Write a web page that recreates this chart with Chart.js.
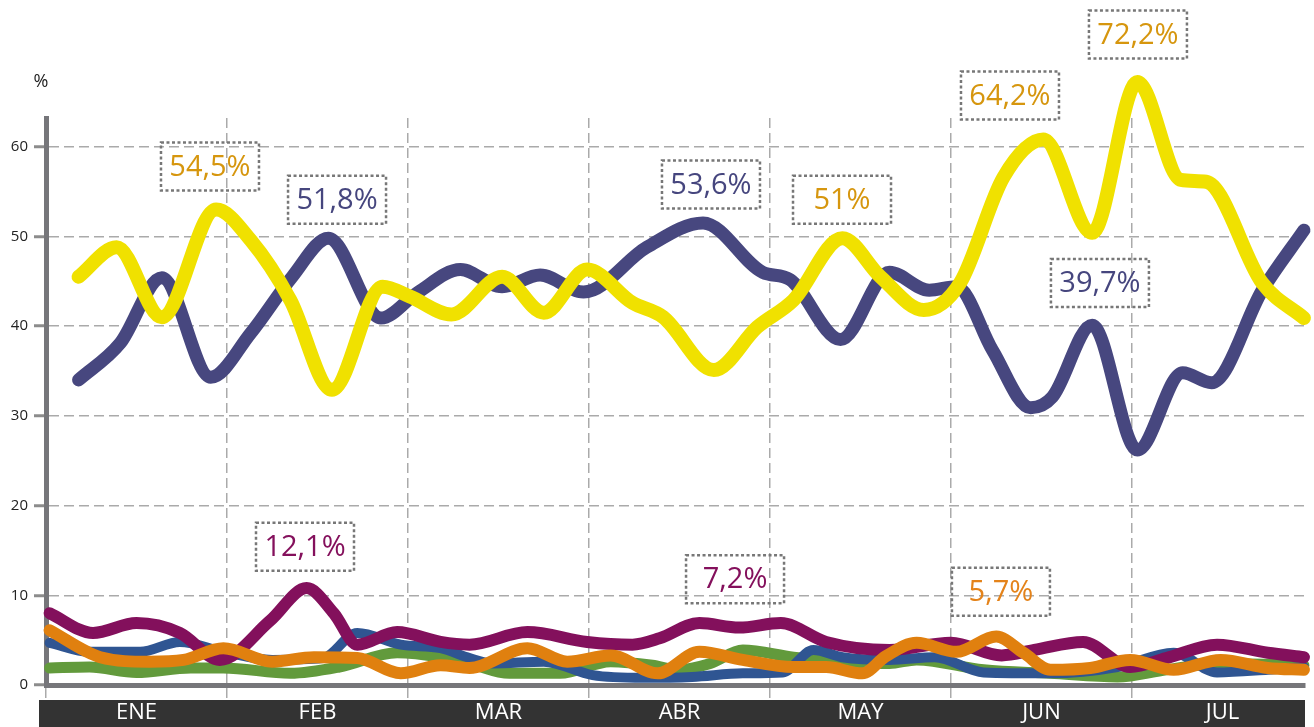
<!DOCTYPE html>
<html>
<head>
<meta charset="utf-8">
<script src="https://cdn.jsdelivr.net/npm/chart.js@4"></script>
<style>
  html, body { margin: 0; padding: 0; background: #fff; }
  #wrap { width: 1314px; height: 727px; position: relative; }
</style>
</head>
<body>
<div id="wrap"><canvas id="chart"></canvas></div>
<script>
// meses (eje x) y escala
const MONTHS = ['ENE', 'FEB', 'MAR', 'ABR', 'MAY', 'JUN', 'JUL'];
const Y_TICKS = [0, 10, 20, 30, 40, 50, 60];

// series: posicion en meses (x) y porcentaje (y)
const yellowX = [0.18, 0.39, 0.64, 0.94, 1.13, 1.35, 1.58, 1.86, 2.01, 2.24, 2.52, 2.75, 2.99, 3.24, 3.41, 3.69, 3.93, 4.13, 4.40, 4.61, 4.85, 5.05, 5.29, 5.51, 5.78, 6.03, 6.27, 6.41, 6.72, 6.95];
const yellowY = [45.5, 48.8, 41.0, 53.0, 49.6, 42.9, 32.9, 44.4, 43.3, 41.3, 45.5, 41.5, 46.3, 42.6, 41.0, 35.1, 39.9, 42.9, 49.8, 45.5, 41.8, 44.8, 56.6, 60.8, 50.4, 67.2, 56.3, 56.1, 44.8, 40.9];

const navyX = [0.18, 0.41, 0.64, 0.91, 1.13, 1.36, 1.56, 1.85, 2.05, 2.29, 2.52, 2.73, 2.97, 3.32, 3.63, 3.96, 4.11, 4.39, 4.66, 4.88, 5.03, 5.23, 5.44, 5.56, 5.78, 6.03, 6.28, 6.44, 6.72, 6.95];
const navyY = [34.0, 38.1, 45.4, 34.3, 39.2, 45.5, 49.8, 40.9, 43.7, 46.3, 44.4, 45.7, 43.8, 48.8, 51.5, 46.0, 45.2, 38.5, 46.0, 44.0, 44.4, 37.3, 30.9, 32.1, 40.1, 26.2, 34.8, 33.7, 44.0, 50.7];

const purpleX = [0.02, 0.26, 0.50, 0.74, 0.96, 1.24, 1.44, 1.59, 1.72, 1.94, 2.18, 2.34, 2.66, 2.99, 3.24, 3.39, 3.61, 3.83, 4.06, 4.31, 4.66, 5.00, 5.28, 5.46, 5.73, 5.99, 6.19, 6.47, 6.75, 6.95];
const purpleY = [8.0, 5.8, 6.9, 5.8, 2.8, 7.2, 10.8, 8.0, 4.5, 5.9, 4.8, 4.5, 5.9, 4.8, 4.5, 5.2, 6.9, 6.4, 6.9, 4.8, 3.9, 4.7, 3.3, 3.9, 4.8, 2.0, 3.0, 4.5, 3.6, 3.1];

const orangeX = [0.02, 0.30, 0.57, 0.76, 0.98, 1.25, 1.48, 1.72, 1.96, 2.18, 2.34, 2.66, 2.88, 3.12, 3.38, 3.61, 3.85, 4.13, 4.31, 4.51, 4.64, 4.81, 5.03, 5.25, 5.40, 5.55, 5.77, 5.99, 6.23, 6.49, 6.75, 6.95];
const orangeY = [6.1, 3.1, 2.6, 2.8, 4.1, 2.6, 3.1, 3.0, 1.3, 2.2, 1.9, 4.1, 2.6, 3.3, 1.3, 3.7, 2.8, 2.0, 2.0, 1.3, 3.2, 4.7, 3.7, 5.4, 3.6, 1.7, 1.9, 2.8, 1.7, 2.8, 1.9, 1.7];

const greenX = [0.02, 0.24, 0.50, 0.80, 0.98, 1.35, 1.62, 1.94, 2.18, 2.34, 2.56, 2.84, 3.12, 3.35, 3.49, 3.67, 3.85, 4.13, 4.40, 4.66, 4.81, 5.18, 5.55, 5.92, 6.19, 6.47, 6.95];
const greenY = [1.9, 2.0, 1.4, 1.9, 1.9, 1.3, 2.0, 3.6, 3.1, 2.4, 1.3, 1.3, 2.6, 2.2, 1.7, 2.4, 3.9, 3.1, 2.6, 2.4, 2.8, 1.7, 1.3, 0.9, 1.7, 2.4, 2.2];

const blueX = [0.02, 0.24, 0.52, 0.74, 0.98, 1.25, 1.53, 1.72, 1.96, 2.18, 2.34, 2.47, 2.75, 3.02, 3.30, 3.57, 3.85, 4.07, 4.24, 4.40, 4.66, 4.91, 5.18, 5.55, 5.92, 6.23, 6.47, 6.75, 6.95];
const blueY = [4.7, 3.7, 3.7, 4.8, 3.7, 2.8, 3.0, 5.8, 4.5, 4.1, 3.0, 2.4, 2.6, 1.1, 0.8, 0.9, 1.3, 1.4, 3.9, 3.1, 2.8, 3.1, 1.4, 1.3, 2.0, 3.6, 1.4, 1.7, 2.0];

// recuadros con valores destacados
const noteText = ['54,5%', '51,8%', '53,6%', '51%', '64,2%', '72,2%', '39,7%', '12,1%', '7,2%', '5,7%'];
const noteX = [0.906, 1.608, 3.674, 4.398, 5.326, 6.033, 5.823, 1.431, 3.807, 5.276];
const noteY = [57.8, 54.1, 55.8, 54.1, 65.7, 72.5, 44.8, 15.4, 11.8, 10.4];
const noteColor = ['#d6960e', '#46467e', '#46467e', '#d6960e', '#d6960e', '#d6960e', '#46467e', '#84105c', '#84105c', '#e4831a'];

const toPoints = (xs, ys) => xs.map((x, i) => ({ x: x, y: ys[i] }));

function lineSet(xs, ys, color, width) {
    return {
        data: toPoints(xs, ys),
        borderColor: color,
        borderWidth: width,
        pointRadius: 0,
        cubicInterpolationMode: 'monotone',
        borderCapStyle: 'round',
        borderJoinStyle: 'round',
        clip: false,
        fill: false
    };
}

// fondo oscuro de los meses, recuadros y simbolo %
const decorPlugin = {
    id: 'decor',
    beforeDraw(chart) {
        const s = chart.scales.months;
        const ctx = chart.ctx;
        ctx.save();
        ctx.fillStyle = '#333333';
        ctx.fillRect(s.left - 7, s.top, s.right - s.left + 7, s.bottom - s.top);
        ctx.restore();
    },
    afterDatasetsDraw(chart) {
        const { ctx, chartArea } = chart;
        const xs = chart.scales.x, ys = chart.scales.y;
        ctx.save();
        ctx.font = '18px "Open Sans"';
        ctx.fillStyle = '#222';
        ctx.textAlign = 'center';
        ctx.textBaseline = 'middle';
        ctx.fillText('%', chartArea.left - 5, chartArea.top - 36);

        ctx.font = '29px "Open Sans"';
        noteText.forEach((t, i) => {
            const cx = xs.getPixelForValue(noteX[i]);
            const cy = ys.getPixelForValue(noteY[i]);
            ctx.setLineDash([3, 2.5]);
            ctx.lineWidth = 2.5;
            ctx.strokeStyle = '#777';
            ctx.strokeRect(cx - 49, cy - 24, 98, 48);
            ctx.setLineDash([]);
            ctx.fillStyle = noteColor[i];
            ctx.fillText(t, cx, cy + 1);
        });
        ctx.restore();
    }
};

new Chart(document.getElementById('chart'), {
    type: 'line',
    data: {
        datasets: [
            lineSet(yellowX, yellowY, '#f0e100', 14),
            lineSet(navyX, navyY, '#47477f', 13),
            lineSet(orangeX, orangeY, '#e0800f', 12),
            lineSet(purpleX, purpleY, '#83105c', 12),
            lineSet(blueX, blueY, '#2f5592', 10),
            lineSet(greenX, greenY, '#629a3c', 11)
        ]
    },
    options: {
        responsive: true,
        maintainAspectRatio: false,
        animation: false,
        layout: { padding: { top: 118, right: 9, left: 0, bottom: 0 } },
        plugins: { legend: { display: false }, tooltip: { enabled: false } },
        scales: {
            x: {
                type: 'linear',
                min: 0,
                max: 6.956,
                weight: 0,
                afterBuildTicks: (scale) => {
                    scale.ticks = MONTHS.map((m, i) => ({ value: i }));
                },
                ticks: { display: false },
                grid: {
                    color: '#aaaaaa',
                    lineWidth: 1.5,
                    tickLength: 15,
                    tickColor: '#aaaaaa',
                    tickWidth: 1.5,
                    tickBorderDash: [10, 5]
                },
                border: { display: true, color: '#76767a', width: 5, dash: [10, 5] },
                afterFit: (scale) => { scale.height = 15; }
            },
            months: {
                type: 'linear',
                position: 'bottom',
                min: 0,
                max: 6.956,
                weight: 1,
                afterBuildTicks: (scale) => {
                    scale.ticks = MONTHS.map((m, i) => ({ value: i + 0.5 }));
                },
                ticks: {
                    color: '#ffffff',
                    font: { family: 'Open Sans', size: 22 },
                    padding: 0,
                    maxRotation: 0,
                    autoSkip: false,
                    callback: (v, i) => MONTHS[i]
                },
                grid: { display: false, drawTicks: false },
                border: { display: false },
                afterFit: (scale) => { scale.height = 27; }
            },
            y: {
                min: 0,
                max: 63.2,
                afterBuildTicks: (scale) => {
                    scale.ticks = Y_TICKS.map(v => ({ value: v }));
                },
                ticks: {
                    color: '#222',
                    font: { family: 'Open Sans', size: 15 },
                    padding: 6
                },
                grid: {
                    color: '#aaaaaa',
                    lineWidth: 1.5,
                    tickLength: 12,
                    tickColor: '#8c8c8c',
                    tickWidth: 3
                },
                border: { display: true, color: '#76767a', width: 5, dash: [10, 5] },
                afterFit: (scale) => { scale.width = 46; }
            }
        }
    },
    plugins: [decorPlugin]
});
</script>
</body>
</html>
